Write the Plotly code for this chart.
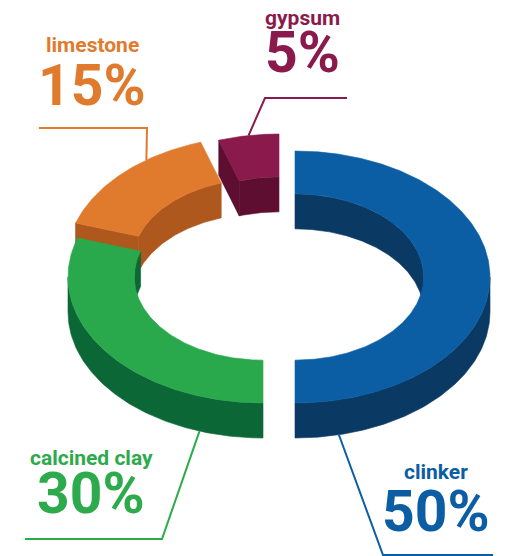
import numpy as np
import plotly.graph_objects as go

# ---------------- data ----------------
materials = ["clinker", "calcined clay", "limestone", "gypsum"]
shares = [50, 30, 15, 5]
share_labels = ["50%", "30%", "15%", "5%"]

# ---------------- style / layout ----------------
W, H = 505, 556
CX, CY = 279, 277          # ring centre (pixels)
RX, RY = 195, 126          # outer radii of the ellipse
INNER = 0.66               # inner / outer radius ratio
DEPTH = 35                 # extrusion height in pixels

top_colors = {"clinker": "#0B5EA3", "calcined clay": "#2AA84C",
              "limestone": "#E07B2E", "gypsum": "#8A1A4B"}
side_colors = {"clinker": "#0A3A64", "calcined clay": "#0B6736",
               "limestone": "#AE581D", "gypsum": "#5E0F31"}
text_colors = {"clinker": "#0B5EA3", "calcined clay": "#2DAA4B",
               "limestone": "#E07B2E", "gypsum": "#8A1A4B"}
explode = {"clinker": (16, 0), "calcined clay": (-16, 0),
           "limestone": (-18, -15), "gypsum": (0, -17)}

# label placement: (x centre, name y, pct y)
label_pos = {"clinker": (436, 472, 511), "calcined clay": (91, 458, 493),
             "limestone": (92, 45, 85), "gypsum": (302, 18, 52)}
# leader: anchor angle on the ring, bottom edge?, elbow point, end point
leaders = {"clinker": (167, True, (383, 555), (493, 555)),
           "calcined clay": (199, True, (162, 539), (25, 539)),
           "limestone": (324, False, (147, 128), (39, 128)),
           "gypsum": (351, False, (265, 98), (347, 98))}

NAME_SIZE = 21
PCT_SIZE = 57
FONT = "Roboto"


def pt(cx, cy, r, th, drop=0.0):
    t = np.radians(th)
    return cx + RX * r * np.sin(t), cy - RY * r * np.cos(t) + drop


def arc(cx, cy, r, a, b, drop=0.0, n=None):
    if n is None:
        n = max(4, int(abs(b - a) * 1.5))
    th = np.linspace(a, b, n)
    x, y = pt(cx, cy, r, th, drop)
    return list(x), list(y)


def clip(a, b, lo, hi):
    s, e = max(a, lo), min(b, hi)
    return (s, e) if e - s > 0.01 else None


fig = go.Figure()


def poly(xs, ys, color):
    fig.add_trace(go.Scatter(x=xs + [xs[0]], y=ys + [ys[0]], mode="lines",
                             fill="toself", fillcolor=color,
                             line=dict(color=color, width=0.6),
                             hoverinfo="skip", showlegend=False))


# angles of each slice (clockwise from 12 o'clock)
total = sum(shares)
starts, ends = [], []
acc = 0.0
for s in shares:
    starts.append(acc / total * 360)
    acc += s
    ends.append(acc / total * 360)

mids = [(a + b) / 2 for a, b in zip(starts, ends)]
order = sorted(range(len(materials)), key=lambda i: -np.cos(np.radians(mids[i])))

for i in order:
    m = materials[i]
    a0, a1 = starts[i], ends[i]
    cx, cy = CX + explode[m][0], CY + explode[m][1]
    side, top = side_colors[m], top_colors[m]
    # inner wall (visible at the back)
    for lo, hi in [(0, 90), (270, 360)]:
        c = clip(a0, a1, lo, hi)
        if c:
            x1, y1 = arc(cx, cy, INNER, c[0], c[1])
            x2, y2 = arc(cx, cy, INNER, c[1], c[0], DEPTH)
            poly(x1 + x2, y1 + y2, side)
    # cut faces
    for ang, vis in [(a0, np.sin(np.radians(a0)) < -1e-6),
                     (a1, np.sin(np.radians(a1)) > 1e-6)]:
        if vis:
            p = [pt(cx, cy, INNER, ang), pt(cx, cy, 1, ang),
                 pt(cx, cy, 1, ang, DEPTH), pt(cx, cy, INNER, ang, DEPTH)]
            poly([q[0] for q in p], [q[1] for q in p], side)
    # outer wall (visible at the front)
    c = clip(a0, a1, 90, 270)
    if c:
        x1, y1 = arc(cx, cy, 1, c[0], c[1])
        x2, y2 = arc(cx, cy, 1, c[1], c[0], DEPTH)
        poly(x1 + x2, y1 + y2, side)
    # top face
    x1, y1 = arc(cx, cy, 1, a0, a1)
    x2, y2 = arc(cx, cy, INNER, a1, a0)
    poly(x1 + x2, y1 + y2, top)

# leader lines
for i, m in enumerate(materials):
    ang, bottom, elbow, end = leaders[m]
    cx, cy = CX + explode[m][0], CY + explode[m][1]
    sx, sy = pt(cx, cy, 1, ang, DEPTH if bottom else 0)
    fig.add_trace(go.Scatter(x=[sx, elbow[0], end[0]], y=[sy, elbow[1], end[1]],
                             mode="lines", line=dict(color=text_colors[m], width=2),
                             hoverinfo="skip", showlegend=False))

# labels
for i, m in enumerate(materials):
    x, yn, yp = label_pos[m]
    fig.add_annotation(x=x, y=yn, text=m, showarrow=False, xanchor="center",
                       yanchor="middle",
                       font=dict(family=FONT, size=NAME_SIZE, color=text_colors[m],
                                 weight="bold"))
    fig.add_annotation(x=x, y=yp, text=share_labels[i], showarrow=False,
                       xanchor="center", yanchor="middle",
                       font=dict(family=FONT, size=PCT_SIZE, color=text_colors[m],
                                 weight="bold"))

fig.update_layout(width=W, height=H, margin=dict(l=0, r=0, t=0, b=0),
                  paper_bgcolor="white", plot_bgcolor="white",
                  xaxis=dict(range=[0, W], visible=False, fixedrange=True),
                  yaxis=dict(range=[H, 0], visible=False, fixedrange=True))

fig.write_html("out.html")
